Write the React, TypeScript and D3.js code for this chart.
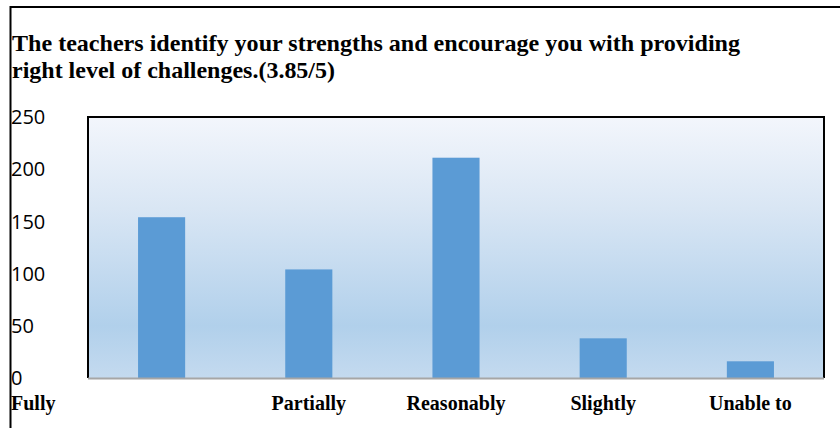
import React from "react";
import * as d3 from "d3";

const titleLines = [
  "The teachers identify your strengths and encourage you with providing",
  "right level of challenges.(3.85/5)",
];
const categories = ["Fully", "Partially", "Reasonably", "Slightly", "Unable to"];
const values = [154, 104, 211, 38, 16];
const yTicks = [0, 50, 100, 150, 200, 250];

const W = 840;
const H = 428;
const plot = { left: 88, top: 117, right: 824, bottom: 378 };

export default function App() {
  const x = d3
    .scaleBand<string>()
    .domain(categories)
    .range([plot.left, plot.right])
    .paddingInner(0)
    .paddingOuter(0);
  const y = d3.scaleLinear().domain([0, 250]).range([plot.bottom, plot.top]);
  const barW = x.bandwidth() * 0.32;

  return (
    <svg
      width={W}
      height={H}
      style={{ position: "absolute", left: 0, top: 0 }}
    >
      <defs>
        <linearGradient id="bg" x1="0" y1="0" x2="0" y2="1">
          <stop offset="0" stopColor="#f3f6fc" />
          <stop offset="0.35" stopColor="#d9e6f4" />
          <stop offset="0.8" stopColor="#b1d0eb" />
          <stop offset="1" stopColor="#c4daef" />
        </linearGradient>
      </defs>
      <rect x={0} y={0} width={W} height={H} fill="#ffffff" />
      {/* outer frame */}
      <line x1={10.5} y1={6} x2={10.5} y2={H} stroke="#000" strokeWidth={2} />
      <line x1={10} y1={7} x2={W} y2={7} stroke="#000" strokeWidth={2} />

      {/* title */}
      {titleLines.map((t, i) => (
        <text
          key={i}
          x={12}
          y={51 + i * 27}
          fontFamily="'Liberation Serif', 'Times New Roman', serif"
          fontWeight="bold"
          fontSize={24}
          textLength={i === 0 ? 728 : 323}
          lengthAdjust="spacingAndGlyphs"
          fill="#000"
        >
          {t}
        </text>
      ))}

      {/* plot area */}
      <rect
        x={plot.left}
        y={plot.top}
        width={plot.right - plot.left}
        height={plot.bottom - plot.top}
        fill="url(#bg)"
      />
      {categories.map((c, i) => (
        <rect
          key={c}
          x={(x(c) as number) + x.bandwidth() / 2 - barW / 2}
          y={y(values[i])}
          width={barW}
          height={y(0) - y(values[i])}
          fill="#5b9bd5"
        />
      ))}
      <path
        d={`M${plot.left},${plot.bottom} V${plot.top} H${plot.right} V${plot.bottom}`}
        fill="none"
        stroke="#000"
        strokeWidth={2}
      />
      <line
        x1={plot.left}
        y1={plot.bottom + 0.5}
        x2={plot.right}
        y2={plot.bottom + 0.5}
        stroke="#a6a6a6"
        strokeWidth={2}
      />

      {/* y tick labels */}
      {yTicks.map((t) => (
        <text
          key={t}
          x={11}
          y={y(t)}
          dy="0.36em"
          fontFamily="'Open Sans', 'DejaVu Sans', sans-serif"
          fontSize={20}
          fill="#000"
        >
          {t}
        </text>
      ))}

      {/* x labels */}
      {categories.map((c, i) => (
        <text
          key={c}
          x={i === 0 ? 11 : (x(c) as number) + x.bandwidth() / 2}
          y={410}
          textAnchor={i === 0 ? "start" : "middle"}
          fontFamily="'Liberation Serif', 'Times New Roman', serif"
          fontWeight="bold"
          fontSize={20}
          fill="#000"
        >
          {c}
        </text>
      ))}
    </svg>
  );
}
